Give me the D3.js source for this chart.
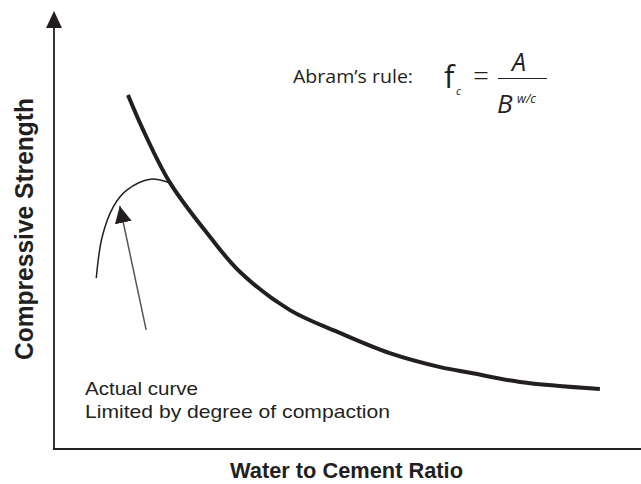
<!DOCTYPE html>
<html><head><meta charset="utf-8">
<script src="https://cdn.jsdelivr.net/npm/d3@7"></script>
<style>body{margin:0;background:#fff}svg{display:block}</style>
</head><body>
<svg id="c" width="641" height="484"></svg>
<script>
// Ideal curve (Abram's rule), normalized w/c (x) and strength (y)
const idealX = [0.126, 0.152, 0.198, 0.266, 0.317, 0.402, 0.487, 0.572, 0.658, 0.709, 0.794, 0.930];
const idealY = [0.808, 0.728, 0.607, 0.484, 0.404, 0.317, 0.265, 0.219, 0.187, 0.174, 0.153, 0.137];
// Actual curve limited by compaction
const actualX = [0.072, 0.082, 0.101, 0.124, 0.164, 0.198];
const actualY = [0.390, 0.484, 0.553, 0.591, 0.616, 0.607];
// Pointer arrow (from, to)
const pointerX = [0.157, 0.112];
const pointerY = [0.272, 0.555];
const labels = { x: "Water to Cement Ratio", y: "Compressive Strength",
  note1: "Actual curve", note2: "Limited by degree of compaction", rule: "Abram\u2019s rule:" };

const svg = d3.select("#c");
const x = d3.scaleLinear().domain([0, 1]).range([54, 641]);
const y = d3.scaleLinear().domain([0, 1]).range([449, 11]);
const ink = "#231f20";

const defs = svg.append("defs");
defs.append("marker").attr("id", "ah").attr("viewBox", "0 0 10 10").attr("refX", 10).attr("refY", 5)
  .attr("markerWidth", 17).attr("markerHeight", 17).attr("markerUnits", "userSpaceOnUse").attr("orient", "auto")
  .append("path").attr("d", "M0,0 L10,5 L0,10 Z").attr("fill", ink);

// axes
svg.append("line").attr("x1", x(0)).attr("x2", x(0)).attr("y1", y(0)+0.5).attr("y2", y(1)+17)
  .attr("stroke", ink).attr("stroke-width", 1.8);
svg.append("path").attr("d", `M${x(0)},${y(1)} L${x(0)-8},${y(1)+17} L${x(0)+8},${y(1)+17} Z`).attr("fill", ink);
svg.append("line").attr("x1", x(0)-1).attr("x2", x(1)).attr("y1", y(0)).attr("y2", y(0))
  .attr("stroke", ink).attr("stroke-width", 1.8);

const ideal = idealX.map((d, i) => [d, idealY[i]]);
const actual = actualX.map((d, i) => [d, actualY[i]]);
const line = d3.line().x(d => x(d[0])).y(d => y(d[1])).curve(d3.curveCatmullRom.alpha(0.5));

svg.append("path").attr("d", line(actual)).attr("fill", "none").attr("stroke", ink).attr("stroke-width", 1.5);
svg.append("path").attr("d", line(ideal)).attr("fill", "none").attr("stroke", ink).attr("stroke-width", 4);

svg.append("line").attr("x1", x(pointerX[0])).attr("y1", y(pointerY[0])).attr("x2", x(pointerX[1])).attr("y2", y(pointerY[1]))
  .attr("stroke", "#555").attr("stroke-width", 1.5).attr("marker-end", "url(#ah)");

// axis titles
const sans = "Liberation Sans, Arial, sans-serif";
svg.append("text").attr("x", 230).attr("y", 478)
  .attr("font-family", sans).attr("font-weight", "bold").attr("font-size", 22)
  .attr("textLength", 233).attr("lengthAdjust", "spacingAndGlyphs")
  .attr("fill", ink).text(labels.x);
svg.append("text").attr("transform", "translate(33,360) rotate(-90)")
  .attr("font-family", sans).attr("font-weight", "bold").attr("font-size", 25)
  .attr("textLength", 262).attr("lengthAdjust", "spacingAndGlyphs")
  .attr("fill", ink).text(labels.y);

// note
svg.append("text").attr("x", 85).attr("y", 395).attr("font-family", sans).attr("font-size", 18.5).attr("fill", ink)
  .attr("textLength", 113).attr("lengthAdjust", "spacingAndGlyphs").text(labels.note1);
svg.append("text").attr("x", 85).attr("y", 418).attr("font-family", sans).attr("font-size", 18.5).attr("fill", ink)
  .attr("textLength", 305).attr("lengthAdjust", "spacingAndGlyphs").text(labels.note2);

// formula
const ff = "Open Sans, Noto Sans, sans-serif";
svg.append("text").attr("x", 293).attr("y", 82.5).attr("font-family", ff).attr("font-size", 17.5).attr("fill", ink)
  .attr("textLength", 120).attr("lengthAdjust", "spacingAndGlyphs").text(labels.rule);
svg.append("text").attr("x", 444).attr("y", 88).attr("font-family", ff).attr("font-size", 31).attr("fill", ink).text("f");
svg.append("text").attr("x", 456).attr("y", 95).attr("font-family", ff).attr("font-style", "italic").attr("font-size", 11).attr("fill", ink).text("c");
svg.append("text").attr("x", 473).attr("y", 86).attr("font-family", ff).attr("font-weight", 300).attr("font-size", 28).attr("fill", ink).text("=");
svg.append("text").attr("x", 519).attr("y", 71).attr("text-anchor", "middle").attr("font-family", ff).attr("font-style", "italic").attr("font-size", 25).attr("fill", ink).text("A");
svg.append("line").attr("x1", 498).attr("x2", 547).attr("y1", 78.5).attr("y2", 78.5).attr("stroke", ink).attr("stroke-width", 1.2);
svg.append("text").attr("x", 497).attr("y", 113).attr("font-family", ff).attr("font-style", "italic").attr("font-size", 26).attr("fill", ink).text("B");
svg.append("text").attr("x", 517).attr("y", 103).attr("font-family", ff).attr("font-style", "italic").attr("font-size", 12.5).attr("fill", ink).text("w/c");
</script>
</body></html>
